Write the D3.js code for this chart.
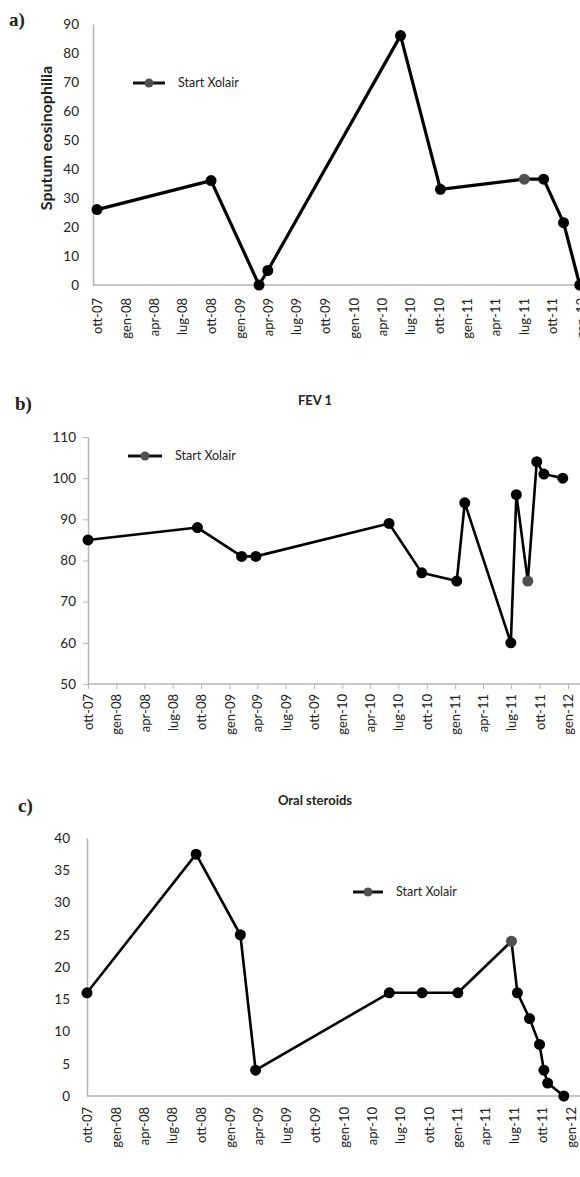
<!DOCTYPE html>
<html>
<head>
<meta charset="utf-8">
<script src="https://cdn.jsdelivr.net/npm/d3@7"></script>
<style>
  body { margin: 0; background: #fff; }
  text { font-family: Lato, "Open Sans", sans-serif; fill: #222; }
</style>
</head>
<body>
<svg id="chart" width="580" height="1177"></svg>
<script>
// quarterly axis ticks (italian month names)
var tickDates = ["2007-10-01","2008-01-01","2008-04-01","2008-07-01","2008-10-01","2009-01-01",
  "2009-04-01","2009-07-01","2009-10-01","2010-01-01","2010-04-01","2010-07-01","2010-10-01",
  "2011-01-01","2011-04-01","2011-07-01","2011-10-01","2012-01-01"];
var tickLabels = ["ott-07","gen-08","apr-08","lug-08","ott-08","gen-09","apr-09","lug-09","ott-09",
  "gen-10","apr-10","lug-10","ott-10","gen-11","apr-11","lug-11","ott-11","gen-12"];

// a) sputum eosinophilia
var sputumDates = ["2007-10-01","2008-10-01","2009-03-04","2009-04-01","2010-06-01","2010-10-07",
  "2011-07-03","2011-09-03","2011-11-06","2011-12-28"];
var sputumValues = [26, 36, 0, 5, 86, 33, 36.5, 36.5, 21.5, 0];
var sputumStart = 6;
var sputumTicks = [0, 10, 20, 30, 40, 50, 60, 70, 80, 90];

// b) FEV 1
var fevDates = ["2007-10-01","2008-09-19","2009-02-09","2009-03-27","2010-06-01","2010-09-15",
  "2011-01-06","2011-02-01","2011-06-30","2011-07-18","2011-08-24","2011-09-22","2011-10-15","2011-12-15"];
var fevValues = [85, 88, 81, 81, 89, 77, 75, 94, 60, 96, 75, 104, 101, 100];
var fevStart = 10;
var fevTicks = [50, 60, 70, 80, 90, 100, 110];

// c) oral steroids
var steroidDates = ["2007-10-01","2008-09-15","2009-02-04","2009-03-25","2010-05-28","2010-09-10",
  "2011-01-03","2011-06-24","2011-07-13","2011-08-21","2011-09-22","2011-10-06","2011-10-18","2011-12-09"];
var steroidValues = [16, 37.5, 25, 4, 16, 16, 16, 24, 16, 12, 8, 4, 2, 0];
var steroidStart = 7;
var steroidTicks = [0, 5, 10, 15, 20, 25, 30, 35, 40];

var parse = d3.timeParse("%Y-%m-%d");
var svg = d3.select("#chart");

function drawPanel(o) {
  var g = svg.append("g");
  var x = d3.scaleTime()
    .domain([parse(tickDates[0]), parse(tickDates[tickDates.length - 1])])
    .range(o.xRange);
  var y = d3.scaleLinear().domain(o.yDomain).range(o.yRange);

  // panel letter
  g.append("text")
    .attr("x", o.letterPos[0]).attr("y", o.letterPos[1])
    .style("font-family", "'Liberation Serif', serif")
    .style("font-weight", "bold").style("font-size", "19px")
    .text(o.letter);

  if (o.title) {
    g.append("text")
      .attr("x", o.titlePos[0]).attr("y", o.titlePos[1])
      .attr("text-anchor", "middle")
      .style("font-weight", "bold").style("font-size", "13px")
      .text(o.title);
  }

  // y axis
  var yAxis = g.append("g")
    .attr("transform", "translate(" + o.axisX + ",0)")
    .call(d3.axisLeft(y).tickValues(o.yTicks).tickSize(o.tickLen).tickSizeOuter(0)
      .tickPadding(o.yPad));
  yAxis.select(".domain").attr("stroke", "#b5b5b5").attr("stroke-width", 1.5);
  yAxis.selectAll(".tick line").attr("stroke", "#b5b5b5");
  yAxis.selectAll("text").style("font-size", "13.5px").attr("fill", "#222");

  // x axis
  var baseY = y(o.yDomain[0]);
  g.append("line")
    .attr("x1", o.axisX).attr("x2", 580)
    .attr("y1", baseY).attr("y2", baseY)
    .attr("stroke", "#b5b5b5").attr("stroke-width", 1.5);
  var xAxis = g.append("g")
    .attr("transform", "translate(0," + baseY + ")")
    .call(d3.axisBottom(x).tickValues(tickDates.map(parse)).tickSize(o.tickLen).tickSizeOuter(0)
      .tickFormat(function(d, i) { return tickLabels[i]; }));
  xAxis.select(".domain").remove();
  xAxis.selectAll(".tick line").attr("stroke", "#b5b5b5");
  xAxis.selectAll("text")
    .attr("transform", "rotate(-90)")
    .attr("x", -o.xPad).attr("y", 0).attr("dy", "0.35em")
    .style("text-anchor", "end").style("font-size", "13px").attr("fill", "#111");

  if (o.yTitle) {
    g.append("text")
      .attr("transform", "translate(" + o.yTitlePos[0] + "," + o.yTitlePos[1] + ") rotate(-90)")
      .attr("text-anchor", "middle")
      .style("font-weight", "bold").style("font-size", "16px")
      .text(o.yTitle);
  }

  // series
  var pts = o.dates.map(function(d, i) { return { date: parse(d), value: o.values[i], start: i === o.start }; });
  g.append("path")
    .datum(pts)
    .attr("fill", "none").attr("stroke", "#000").attr("stroke-width", o.lineW)
    .attr("stroke-linejoin", "round")
    .attr("d", d3.line().x(function(d) { return x(d.date); }).y(function(d) { return y(d.value); }));
  g.selectAll(".pt").data(pts).enter().append("circle")
    .attr("class", "pt")
    .attr("cx", function(d) { return x(d.date); })
    .attr("cy", function(d) { return y(d.value); })
    .attr("r", 5.5)
    .attr("fill", function(d) { return d.start ? "#505050" : "#000"; });

  // legend
  var lg = g.append("g").attr("transform", "translate(" + o.legendPos[0] + "," + o.legendPos[1] + ")");
  lg.append("line").attr("x1", 0).attr("x2", o.legendLen).attr("y1", 0).attr("y2", 0)
    .attr("stroke", "#111").attr("stroke-width", 3);
  lg.append("circle").attr("cx", o.legendLen / 2).attr("cy", 0).attr("r", 4.5).attr("fill", "#505050");
  lg.append("text").attr("x", o.legendLen + 13).attr("y", 0).attr("dy", "0.35em")
    .style("font-size", "12.5px").text("Start Xolair");
}

drawPanel({
  letter: "a)", letterPos: [9, 26],
  dates: sputumDates, values: sputumValues, start: sputumStart,
  xRange: [97, 581], axisX: 93, yDomain: [0, 90], yRange: [285, 24], yTicks: sputumTicks,
  tickLen: 0, yPad: 14, xPad: 13, lineW: 3.2,
  yTitle: "Sputum eosinophilia", yTitlePos: [52, 138],
  legendPos: [133, 83], legendLen: 32
});

drawPanel({
  letter: "b)", letterPos: [15, 410],
  title: "FEV 1", titlePos: [315, 405],
  dates: fevDates, values: fevValues, start: fevStart,
  xRange: [88, 568], axisX: 88, yDomain: [50, 110], yRange: [684, 437], yTicks: fevTicks,
  tickLen: 5, yPad: 7, xPad: 10, lineW: 2.6,
  legendPos: [128, 456], legendLen: 34
});

drawPanel({
  letter: "c)", letterPos: [18, 812],
  title: "Oral steroids", titlePos: [315, 805],
  dates: steroidDates, values: steroidValues, start: steroidStart,
  xRange: [87, 571], axisX: 87, yDomain: [0, 40], yRange: [1096, 838], yTicks: steroidTicks,
  tickLen: 0, yPad: 17, xPad: 11, lineW: 2.6,
  legendPos: [353, 892], legendLen: 30
});
</script>
</body>
</html>
